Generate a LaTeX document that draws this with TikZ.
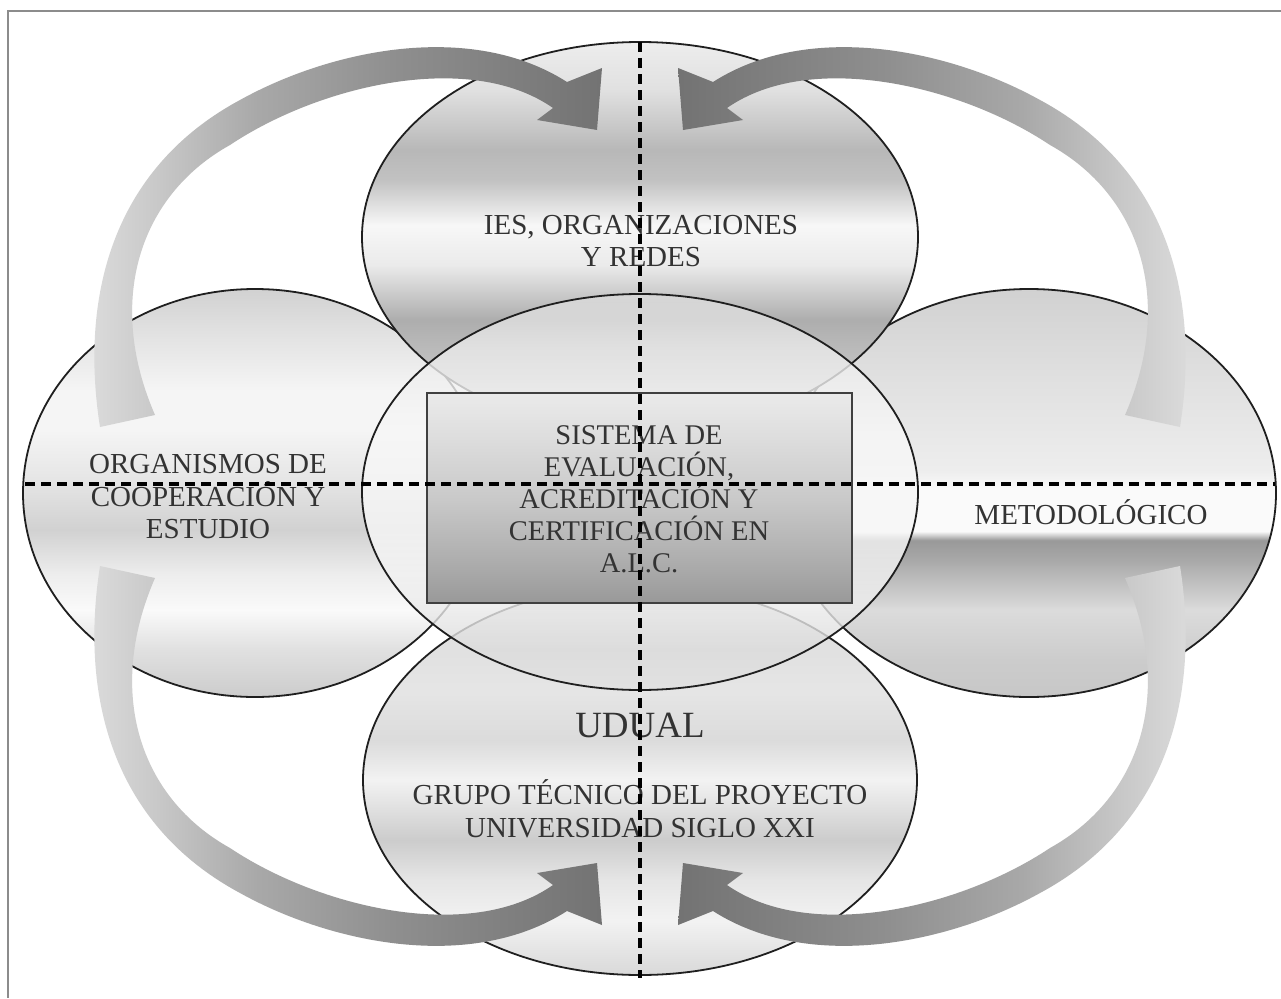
\documentclass[tikz,border=0pt]{standalone}
\usepackage{fontspec}
\setmainfont{Liberation Serif}
\usetikzlibrary{shapes.geometric}
% vertical shadings: 0bp = bottom, path bbox mapped to 25bp..75bp
\pgfdeclareverticalshading{topsh}{100bp}{rgb(0bp)=(.86,.86,.86); rgb(25bp)=(.86,.86,.86); rgb(34.9bp)=(.74,.74,.74); rgb(39.4bp)=(.68,.68,.68); rgb(46.4bp)=(.92,.92,.92); rgb(51.5bp)=(.97,.97,.97); rgb(57.3bp)=(.76,.76,.76); rgb(61.15bp)=(.72,.72,.72); rgb(68.85bp)=(.88,.88,.88); rgb(75bp)=(.93,.93,.93); rgb(100bp)=(.93,.93,.93)}
\pgfdeclareverticalshading{leftsh}{100bp}{rgb(0bp)=(.80,.80,.80); rgb(25bp)=(.80,.80,.80); rgb(30.8bp)=(.88,.88,.88); rgb(35.7bp)=(.98,.98,.98); rgb(40bp)=(.93,.93,.93); rgb(45.5bp)=(.82,.82,.82); rgb(51.6bp)=(.90,.90,.90); rgb(57.7bp)=(.96,.96,.96); rgb(62.6bp)=(.96,.96,.96); rgb(70bp)=(.88,.88,.88); rgb(75bp)=(.82,.82,.82); rgb(100bp)=(.82,.82,.82)}
\pgfdeclareverticalshading{rightsh}{100bp}{rgb(0bp)=(.78,.78,.78); rgb(25bp)=(.78,.78,.78); rgb(29.5bp)=(.80,.80,.80); rgb(35.7bp)=(.86,.86,.86); rgb(41.8bp)=(.66,.66,.66); rgb(44.2bp)=(.60,.60,.60); rgb(45.3bp)=(.98,.98,.98); rgb(50.4bp)=(.98,.98,.98); rgb(52.8bp)=(.93,.93,.93); rgb(63.8bp)=(.88,.88,.88); rgb(75bp)=(.82,.82,.82); rgb(100bp)=(.82,.82,.82)}
\pgfdeclareverticalshading{botsh}{100bp}{rgb(0bp)=(.85,.85,.85); rgb(25bp)=(.85,.85,.85); rgb(32bp)=(.95,.95,.95); rgb(37.2bp)=(.90,.90,.90); rgb(42.3bp)=(.80,.80,.80); rgb(50bp)=(.95,.95,.95); rgb(55.1bp)=(.86,.86,.86); rgb(61.5bp)=(.90,.90,.90); rgb(75bp)=(.85,.85,.85); rgb(100bp)=(.85,.85,.85)}
\pgfdeclareverticalshading{censh}{100bp}{rgb(0bp)=(.88,.88,.88); rgb(25bp)=(.88,.88,.88); rgb(30bp)=(.86,.86,.86); rgb(36.4bp)=(.93,.93,.93); rgb(45.2bp)=(.97,.97,.97); rgb(57.8bp)=(.97,.97,.97); rgb(67.9bp)=(.92,.92,.92); rgb(75bp)=(.85,.85,.85); rgb(100bp)=(.85,.85,.85)}
\pgfdeclareverticalshading{rectsh}{100bp}{rgb(0bp)=(.60,.60,.60); rgb(25bp)=(.60,.60,.60); rgb(35bp)=(.68,.68,.68); rgb(50bp)=(.79,.79,.79); rgb(65bp)=(.87,.87,.87); rgb(75bp)=(.92,.92,.92); rgb(100bp)=(.92,.92,.92)}
\pgfdeclarehorizontalshading{arrL}{100bp}{rgb(0bp)=(.87,.87,.87); rgb(25bp)=(.87,.87,.87); rgb(32bp)=(.79,.79,.79); rgb(42bp)=(.66,.66,.66); rgb(55bp)=(.56,.56,.56); rgb(75bp)=(.45,.45,.45); rgb(100bp)=(.45,.45,.45)}
\pgfdeclarehorizontalshading{arrR}{100bp}{rgb(0bp)=(.45,.45,.45); rgb(25bp)=(.45,.45,.45); rgb(45bp)=(.56,.56,.56); rgb(58bp)=(.66,.66,.66); rgb(68bp)=(.79,.79,.79); rgb(75bp)=(.87,.87,.87); rgb(100bp)=(.87,.87,.87)}
\definecolor{txt}{gray}{0.2}
\definecolor{framecol}{gray}{0.55}
\definecolor{edgecol}{gray}{0.12}
\newcommand{\curvedarrow}{(155,415) .. controls (105,300) and (140,195) .. (230,145) .. controls (320,85) and (470,50) .. (553,108) -- (537,120) -- (597,130) -- (602,68) -- (567,82) .. controls (470,20) and (330,50) .. (240,100) .. controls (110,170) and (80,300) .. (100,427) -- cycle}
\begin{document}
\begin{tikzpicture}[x=1pt,y=-1pt,
  blob/.style={ellipse, draw=edgecol, line width=1.8pt, inner sep=0pt, outer sep=0pt},
  lbl/.style={text=txt, align=center, font=\fontsize{29}{32.5}\selectfont, inner sep=0pt},
  dashline/.style={black, line width=3.2pt, dash pattern=on 10pt off 6pt}]
\useasboundingbox (0,0) rectangle (1281,998);
\fill[white] (0,0) rectangle (1281,998);
% frame
\coordinate (ftr) at (1281,11);
\coordinate (ftl) at (8,11);
\coordinate (fbl) at (8,998);
\draw[framecol, line width=2.5pt] (ftr) -- (ftl) -- (fbl);
% side ellipses
\node[blob, shading=leftsh, minimum width=464pt, minimum height=408pt] (left) at (255,493) {};
\node[blob, shading=rightsh, minimum width=494pt, minimum height=408pt] (right) at (1029,493) {};
% top and bottom ellipses
\node[blob, shading=topsh, minimum width=556pt, minimum height=390pt] (top) at (640,237) {};
\node[blob, shading=botsh, minimum width=554pt, minimum height=390pt] (bottom) at (640,780) {};
% central ellipse
\node[blob, shading=censh, fill opacity=0.8, minimum width=556pt, minimum height=396pt] (center) at (640,492) {};
% rectangle
\node[draw=black!75, line width=2pt, shading=rectsh, minimum width=425pt, minimum height=210pt, inner sep=0pt] (box) at (639.5,498) {};
% curved arrows
\shade[shading=arrL] \curvedarrow;
\begin{scope}[shift={(1280,0)}, xscale=-1]
\shade[shading=arrR] \curvedarrow;
\end{scope}
\begin{scope}[shift={(0,993)}, yscale=-1]
\shade[shading=arrL] \curvedarrow;
\end{scope}
\begin{scope}[shift={(1280,993)}, xscale=-1, yscale=-1]
\shade[shading=arrR] \curvedarrow;
\end{scope}
% texts
\node[lbl] (ies) at (641,241) {IES, ORGANIZACIONES\\Y REDES};
\node[lbl] (org) at (208,497) {ORGANISMOS DE\\COOPERACIÓN Y\\ESTUDIO};
\node[lbl, font=\fontsize{28.5}{32}\selectfont] (sis) at (639,499) {SISTEMA DE\\EVALUACIÓN,\\ACREDITACIÓN Y\\CERTIFICACIÓN EN\\A.L.C.};
\node[lbl] (met) at (1091,512) {METODOLÓGICO};
\node[lbl, font=\fontsize{37}{40}\selectfont] (udual) at (640,725) {UDUAL};
\node[lbl] (grupo) at (640,809) {GRUPO TÉCNICO DEL PROYECTO\\UNIVERSIDAD SIGLO XXI};
% dashed axes
\coordinate (vtop) at (640,42);
\coordinate (vbot) at (640,978);
\coordinate (hleft) at (25,484);
\coordinate (hright) at (1275,484);
\draw[dashline] (vtop) -- (vbot);
\draw[dashline] (hleft) -- (hright);
\end{tikzpicture}
\end{document}
